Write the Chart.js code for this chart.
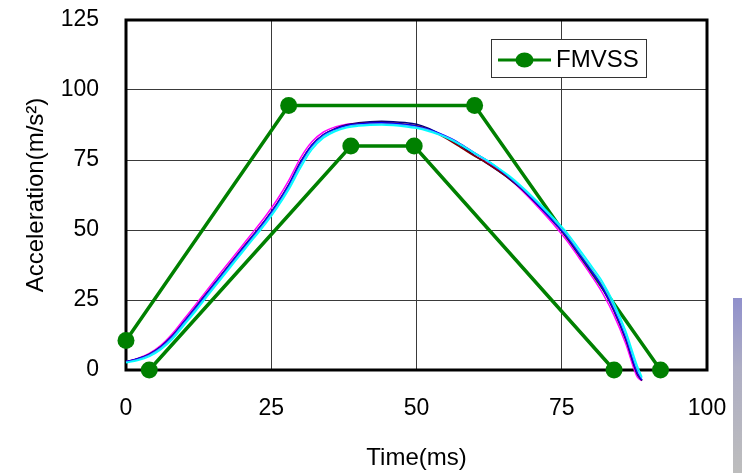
<!DOCTYPE html>
<html>
<head>
<meta charset="utf-8">
<script src="https://cdn.jsdelivr.net/npm/chart.js@4/dist/chart.umd.min.js"></script>
<style>
  body { margin: 0; background: #fff; }
  #wrap { position: relative; width: 742px; height: 473px; }
  #edge { position: absolute; left: 733px; top: 298px; width: 9px; height: 175px;
          background: linear-gradient(#9090cc, #aeaec4 40%, #bdbdbd); }
</style>
</head>
<body>
<div id="wrap">
  <canvas id="myChart" width="742" height="473"></canvas>
  <div id="edge"></div>
</div>
<script>
// time axis (ms) shared by the measured curves
const timeMs = [0, 2, 4, 6, 8, 10, 12, 14, 16, 18, 20, 22, 24, 26, 28, 30, 32, 34, 36, 38,
    40, 42, 44, 46, 48, 50, 52, 54, 56, 58, 60, 62, 64, 66, 68, 70, 72, 74, 76, 78,
    80, 82, 84, 86, 88, 88.8];

// acceleration curves (m/s2)
const accMagenta = [3.0, 4.1, 5.9, 8.8, 13.0, 18.2, 23.4, 28.7, 34.0, 39.2, 44.4, 49.6, 54.9, 60.8, 67.6, 75.6, 81.5, 85.0, 86.8, 87.8,
    88.1, 88.2, 88.1, 87.8, 87.4, 86.8, 85.8, 84.3, 82.4, 80.0, 77.3, 74.7, 71.6, 68.2, 64.4, 60.2, 55.7, 51.0, 45.9, 40.0,
    34.0, 27.5, 19.5, 9.5, -2.5, -3.8];
const accNavy = [2.8, 3.9, 5.5, 8.2, 12.1, 17.0, 22.1, 27.4, 32.6, 37.8, 43.0, 48.1, 53.3, 59.1, 65.8, 73.8, 80.2, 84.0, 86.2, 87.6,
    88.3, 88.7, 88.8, 88.7, 88.4, 87.8, 86.4, 84.3, 82.0, 79.5, 76.6, 74.0, 71.2, 68.2, 64.8, 60.8, 56.5, 52.0, 47.1, 41.2,
    35.3, 29.1, 21.0, 11.0, -1.5, -3.8];
const accMaroon = [2.9, 4.0, 5.7, 8.4, 12.3, 17.3, 22.5, 27.8, 33.0, 38.2, 43.4, 48.5, 53.7, 59.5, 66.2, 74.2, 80.4, 84.1, 86.1, 87.4,
    88.0, 88.3, 88.4, 88.2, 87.8, 87.2, 86.0, 84.0, 81.6, 79.0, 76.4, 74.0, 71.3, 68.3, 64.8, 60.8, 56.5, 52.0, 47.2, 41.3,
    35.5, 29.4, 21.3, 11.2, -1.2, -3.6];
const accBlue = [3.0, 4.0, 5.6, 8.3, 12.2, 17.2, 22.3, 27.6, 32.8, 38.0, 43.2, 48.3, 53.5, 59.3, 66.0, 74.0, 80.3, 84.0, 86.0, 87.3,
    87.9, 88.2, 88.3, 88.1, 87.7, 87.1, 86.0, 84.5, 82.6, 80.2, 77.5, 75.0, 72.0, 68.7, 65.0, 60.9, 56.6, 52.1, 47.3, 41.4,
    35.6, 29.5, 21.5, 11.5, -1.0, -3.5];
const accSky = [2.8, 3.7, 5.2, 7.8, 11.6, 16.6, 21.6, 26.9, 32.1, 37.3, 42.5, 47.6, 52.8, 58.5, 65.1, 73.0, 79.5, 83.5, 85.6, 86.9,
    87.5, 87.8, 87.9, 87.7, 87.3, 86.7, 85.7, 84.2, 82.4, 80.1, 77.5, 75.0, 72.2, 69.0, 65.4, 61.4, 57.2, 52.8, 48.0, 42.3,
    36.6, 30.6, 22.6, 12.8, 0.3, -3.0];
const accCyan = [2.6, 3.4, 4.8, 7.3, 11.0, 16.0, 21.0, 26.3, 31.5, 36.7, 41.9, 47.0, 52.1, 57.8, 64.3, 72.0, 78.7, 82.9, 85.2, 86.5,
    87.1, 87.4, 87.5, 87.3, 86.9, 86.3, 85.3, 83.9, 82.1, 79.9, 77.4, 75.0, 72.3, 69.3, 65.8, 61.9, 57.8, 53.4, 48.8, 43.2,
    37.5, 31.6, 23.8, 14.0, 1.5, -2.5];

// FMVSS corridor: upper bound, gap, lower bound
const fmvssX = [0, 28, 60, 92, 92, 4, 38.7, 49.6, 84];
const fmvssY = [10.5, 94.5, 94.5, 0, null, 0, 80, 80, 0];

const xTicks = [0, 25, 50, 75, 100];
const yTicks = [0, 25, 50, 75, 100, 125];

const green = '#008000';
const font = 'Liberation Sans, Arial, sans-serif';

function pts(xs, ys) {
    return xs.map((x, i) => ({ x: x, y: ys[i] }));
}

function curve(label, ys, color) {
    return {
        label: label,
        data: pts(timeMs, ys),
        borderColor: color,
        borderWidth: 1.5,
        pointRadius: 0,
        cubicInterpolationMode: 'monotone',
        clip: false
    };
}

const frame = {
    id: 'frame',
    beforeDatasetsDraw(chart) {
        const a = chart.chartArea;
        const ctx = chart.ctx;
        ctx.save();
        ctx.strokeStyle = '#000';
        ctx.lineWidth = 3;
        ctx.strokeRect(a.left, a.top, a.right - a.left, a.bottom - a.top);
        ctx.restore();
    }
};

const boxLegend = {
    id: 'boxLegend',
    afterDraw(chart) {
        const ds = chart.data.datasets.find(d => d.label === 'FMVSS');
        const ctx = chart.ctx;
        ctx.save();
        ctx.fillStyle = '#fff';
        ctx.strokeStyle = '#333';
        ctx.lineWidth = 1;
        ctx.fillRect(491.5, 39.5, 155, 38);
        ctx.strokeRect(491.5, 39.5, 155, 38);
        ctx.strokeStyle = ds.borderColor;
        ctx.lineWidth = 3;
        ctx.beginPath();
        ctx.moveTo(498, 60);
        ctx.lineTo(551, 60);
        ctx.stroke();
        ctx.fillStyle = ds.backgroundColor;
        ctx.beginPath();
        ctx.ellipse(524.5, 60, 9, 7.5, 0, 0, Math.PI * 2);
        ctx.fill();
        ctx.fillStyle = '#000';
        ctx.font = '24px ' + font;
        ctx.textBaseline = 'middle';
        ctx.fillText(ds.label, 556, 60);
        ctx.restore();
    }
};

const data = {
    datasets: [
        curve('T6', accCyan, '#00FFFF'),
        curve('T5', accSky, '#33CCFF'),
        curve('T4', accBlue, '#0000FF'),
        curve('T3', accMaroon, '#800000'),
        curve('T2', accNavy, '#000080'),
        curve('T1', accMagenta, '#FF00FF'),
        {
            label: 'FMVSS',
            data: pts(fmvssX, fmvssY),
            borderColor: green,
            backgroundColor: green,
            borderWidth: 3.5,
            pointRadius: 8.5,
            pointHoverRadius: 8.5,
            pointBorderWidth: 0,
            spanGaps: false,
            clip: false
        }
    ]
};

const config = {
    type: 'line',
    data: data,
    options: {
        responsive: false,
        animation: false,
        layout: { autoPadding: false, padding: { left: 0, top: 20, right: 35, bottom: 0 } },
        plugins: { legend: { display: false }, tooltip: { enabled: false } },
        scales: {
            x: {
                type: 'linear',
                min: xTicks[0],
                max: xTicks[xTicks.length - 1],
                afterBuildTicks: s => { s.ticks = xTicks.map(v => ({ value: v })); },
                afterFit: s => { s.height = 103; s.paddingLeft = 0; s.paddingRight = 0; },
                grid: { color: '#3a3a3a', lineWidth: 1, drawTicks: false },
                border: { display: false },
                ticks: { color: '#000', padding: 25, font: { family: font, size: 23 } },
                title: { display: true, text: 'Time(ms)', color: '#000',
                         padding: { top: 0, bottom: 0 }, font: { family: font, size: 24 } }
            },
            y: {
                min: yTicks[0],
                max: yTicks[yTicks.length - 1],
                afterBuildTicks: s => { s.ticks = yTicks.map(v => ({ value: v })); },
                afterFit: s => { s.width = 126; s.paddingTop = 0; s.paddingBottom = 0; },
                grid: { color: '#3a3a3a', lineWidth: 1, drawTicks: false },
                border: { display: false },
                ticks: { color: '#000', padding: 27, font: { family: font, size: 23 } },
                title: { display: true, text: 'Acceleration(m/s\u00B2)', color: '#000',
                         padding: { top: 22, bottom: 0 }, font: { family: font, size: 24 } }
            }
        }
    },
    plugins: [frame, boxLegend]
};

const myChart = new Chart(document.getElementById('myChart'), config);
</script>
</body>
</html>
